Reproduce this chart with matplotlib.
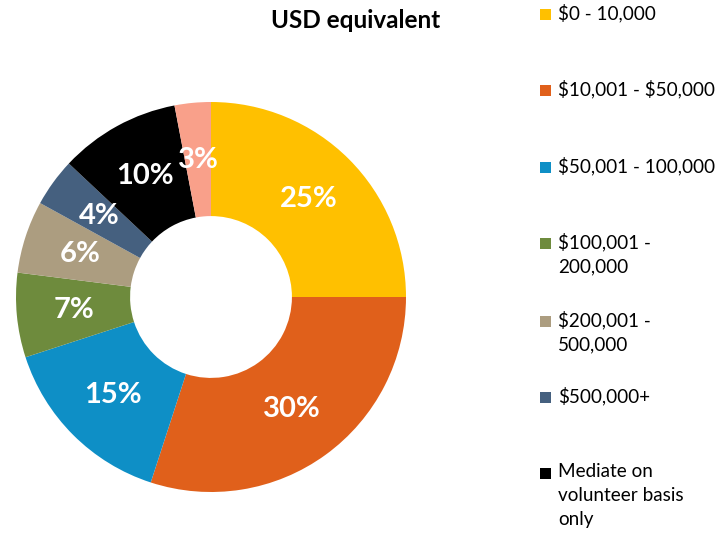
import matplotlib

matplotlib.use("Agg")
import matplotlib.pyplot as plt
import numpy as np
from matplotlib.patches import Rectangle

# Fee bands (USD equivalent) and share of respondents, in percent
bands = [
    "$0 - 10,000",
    "$10,001 - $50,000",
    "$50,001 - 100,000",
    "$100,001 -\n200,000",
    "$200,001 -\n500,000",
    "$500,000+",
    "Mediate on\nvolunteer basis\nonly",
    "Other",
]
shares = [25, 30, 15, 7, 6, 4, 10, 3]
colors = ["#FFC000", "#E0601B", "#0E8FC6", "#6E8B3D", "#AC9D80",
          "#45607F", "#000000", "#F9A08A"]

FONT = ["Lato", "DejaVu Sans"]
plt.rcParams["text.parse_math"] = False

fig = plt.figure(figsize=(7.22, 5.41), dpi=100, facecolor="white")

# donut: centre (211, 297) px, outer radius 195 px
ax = fig.add_axes([(211 - 195) / 722, (541 - 297 - 195) / 541, 390 / 722, 390 / 541])
wedges, _ = ax.pie(
    shares, colors=colors, startangle=90, counterclock=False,
    radius=1.0, wedgeprops=dict(width=0.585, linewidth=0),
)
ax.set_aspect("equal")
ax.set_xlim(-1, 1)
ax.set_ylim(-1, 1)

# percentage labels sit at the middle of the ring
r_mid = 1.0 - 0.585 / 2
for w, v in zip(wedges, shares):
    ang = np.deg2rad((w.theta1 + w.theta2) / 2)
    ax.text(r_mid * np.cos(ang), r_mid * np.sin(ang), f"{v}%",
            ha="center", va="center", color="white", fontsize=21,
            fontweight="bold", family=FONT)

fig.text(356 / 722, 1 - 21 / 541, "USD equivalent", ha="center", va="center",
         fontsize=17.5, fontweight="bold", family=FONT, color="black")

# legend: only the first seven bands fit on the canvas
row_y = [14, 90, 167, 243, 321, 397, 473]
for label, col, y in zip(bands[:7], colors[:7], row_y):
    fig.patches.append(Rectangle((540 / 722, 1 - (y + 6) / 541), 11 / 722, 11 / 541,
                                 transform=fig.transFigure, color=col, linewidth=0))
    fig.text(558 / 722, 1 - (y - 10) / 541, label, ha="left", va="top",
             fontsize=13.6, family=FONT, color="black", linespacing=1.5)

fig.savefig("out.png", dpi=100, facecolor="white")
